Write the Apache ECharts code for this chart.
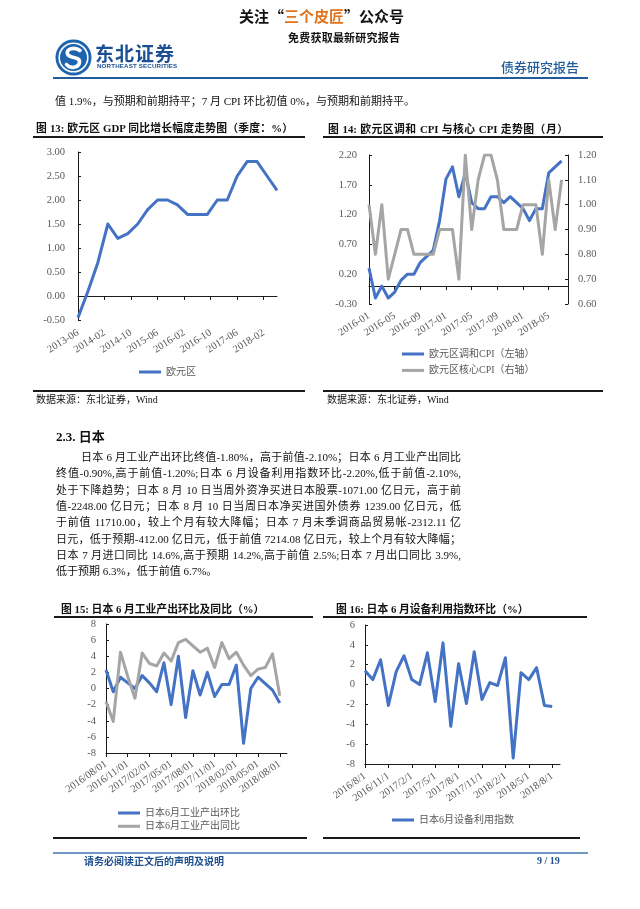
<!DOCTYPE html>
<html lang="zh-CN">
<head>
<meta charset="utf-8">
<script src="https://cdn.jsdelivr.net/npm/echarts@6/dist/echarts.min.js"></script>
<style>
html,body{margin:0;padding:0;background:#fff;}
#page{position:relative;width:640px;height:909px;overflow:hidden;background:#fff;}
#chart{position:absolute;left:0;top:0;width:640px;height:909px;}
.t{position:absolute;white-space:nowrap;font-family:'Liberation Serif','Noto Sans CJK SC',serif;color:#111;z-index:2;}
.j{text-align:justify;text-align-last:justify;}
.rule{position:absolute;background:#1a1a1a;z-index:2;}
.p{font-size:11px;line-height:14px;height:14px;}
</style>
</head>
<body>
<div id="page">
<div id="chart"></div>

<!-- header -->
<div class="t j" style="left:239px;top:7px;width:159px;font-size:15px;line-height:18px;font-weight:bold;font-family:'Noto Sans CJK SC';">关注“<span style="color:#e2741e">三个皮匠</span>”公众号</div>
<div class="t j" style="left:288px;top:30px;width:112px;font-size:11px;line-height:14px;font-weight:bold;font-family:'Noto Sans CJK SC';">免费获取最新研究报告</div>
<svg style="position:absolute;left:55px;top:39px;z-index:2" width="37" height="37" viewBox="0 0 37 37">
<circle cx="18.5" cy="18.5" r="18" fill="#1d63ad"/>
<circle cx="18.5" cy="18.5" r="14.3" fill="none" stroke="#fff" stroke-width="1.6"/>
<path d="M25 11.5 C 20 7.5, 10.5 9.5, 12.5 15 C 14.5 20, 25 17, 24.5 23 C 24 29, 15 30, 11.5 25.5" fill="none" stroke="#fff" stroke-width="3.6" stroke-linecap="round"/>
</svg>
<div class="t j" style="left:95px;top:42px;width:79px;font-size:19px;line-height:22px;font-weight:bold;color:#1b4f93;font-family:'Noto Sans CJK SC';">东北证券</div>
<div class="t" style="left:97px;top:62px;font-size:6.2px;line-height:8px;font-weight:bold;color:#1b4f93;font-family:'Liberation Sans';letter-spacing:0.15px;">NORTHEAST SECURITIES</div>
<div class="t j" style="left:501px;top:59px;width:77px;font-size:13px;line-height:16px;color:#1f5c99;font-family:'Noto Sans CJK SC';font-weight:500;">债券研究报告</div>
<div class="rule" style="left:53px;top:77px;width:535px;height:2px;background:#1f5c99;"></div>

<div class="t p" style="left:55px;top:94px;">值 1.9%，与预期和前期持平；7 月 CPI 环比初值 0%，与预期和前期持平。</div>

<!-- chart 13 / 14 frame -->
<div class="t j" style="left:36px;top:121px;width:257px;font-size:10.8px;line-height:14px;font-weight:bold;">图 13: 欧元区 GDP 同比增长幅度走势图（季度：%）</div>
<div class="rule" style="left:33px;top:136px;width:272px;height:1.5px;"></div>
<div class="t j" style="left:328px;top:122px;width:240px;font-size:10.8px;line-height:14px;font-weight:bold;">图 14: 欧元区调和 CPI 与核心 CPI 走势图（月）</div>
<div class="rule" style="left:323px;top:136px;width:280px;height:1.5px;"></div>
<div class="rule" style="left:33px;top:390px;width:272px;height:1.5px;"></div>
<div class="rule" style="left:323px;top:390px;width:280px;height:1.5px;"></div>
<div class="t" style="left:36px;top:393px;font-size:10px;line-height:14px;">数据来源：东北证券，Wind</div>
<div class="t" style="left:327px;top:393px;font-size:10px;line-height:14px;">数据来源：东北证券，Wind</div>

<!-- section text -->
<div class="t" style="left:56px;top:429px;font-size:13px;line-height:16px;font-weight:bold;">2.3. 日本</div>
<div class="t p j" style="left:81px;top:450px;width:380px;">日本 6 月工业产出环比终值-1.80%，高于前值-2.10%；日本 6 月工业产出同比</div>
<div class="t p j" style="left:56px;top:466.3px;width:405px;">终值-0.90%,高于前值-1.20%;日本 6 月设备利用指数环比-2.20%,低于前值-2.10%,</div>
<div class="t p j" style="left:56px;top:482.6px;width:405px;">处于下降趋势；日本 8 月 10 日当周外资净买进日本股票-1071.00 亿日元，高于前</div>
<div class="t p j" style="left:56px;top:498.9px;width:405px;">值-2248.00 亿日元；日本 8 月 10 日当周日本净买进国外债券 1239.00 亿日元，低</div>
<div class="t p j" style="left:56px;top:515.2px;width:405px;">于前值 11710.00，较上个月有较大降幅；日本 7 月未季调商品贸易帐-2312.11 亿</div>
<div class="t p j" style="left:56px;top:531.5px;width:405px;">日元，低于预期-412.00 亿日元，低于前值 7214.08 亿日元，较上个月有较大降幅；</div>
<div class="t p j" style="left:56px;top:547.8px;width:405px;">日本 7 月进口同比 14.6%,高于预期 14.2%,高于前值 2.5%;日本 7 月出口同比 3.9%,</div>
<div class="t p" style="left:56px;top:564.1px;">低于预期 6.3%，低于前值 6.7%。</div>

<!-- chart 15 / 16 frame -->
<div class="t j" style="left:61px;top:602px;width:201px;font-size:10.8px;line-height:14px;font-weight:bold;">图 15: 日本 6 月工业产出环比及同比（%）</div>
<div class="rule" style="left:54px;top:616px;width:259px;height:1.5px;"></div>
<div class="t j" style="left:336px;top:602px;width:191px;font-size:10.8px;line-height:14px;font-weight:bold;">图 16: 日本 6 月设备利用指数环比（%）</div>
<div class="rule" style="left:323px;top:616px;width:264px;height:1.5px;"></div>
<div class="rule" style="left:53px;top:837px;width:254px;height:1.5px;"></div>
<div class="rule" style="left:323px;top:837px;width:257px;height:1.5px;"></div>

<!-- footer -->
<div class="rule" style="left:53px;top:852px;width:535px;height:2px;background:#6f98c6;"></div>
<div class="t j" style="left:84px;top:854px;width:135px;font-size:10px;line-height:14px;font-weight:bold;color:#1f4e8c;font-family:'Noto Sans CJK SC';">请务必阅读正文后的声明及说明</div>
<div class="t" style="left:537px;top:854px;font-size:10px;line-height:14px;color:#1f4e8c;font-weight:bold;">9 / 19</div>
</div>

<script>
// ---------- data ----------
const gdpQuarters = ['2013-06','2013-09','2013-12','2014-03','2014-06','2014-09','2014-12','2015-03','2015-06','2015-09','2015-12','2016-03','2016-06','2016-09','2016-12','2017-03','2017-06','2017-09','2017-12','2018-03','2018-06'];
const gdpYoY = [-0.45, 0.1, 0.7, 1.5, 1.2, 1.3, 1.5, 1.8, 2.0, 2.0, 1.9, 1.7, 1.7, 1.7, 2.0, 2.0, 2.5, 2.8, 2.8, 2.5, 2.2];

const hicpYoY = [0.3, -0.2, 0.0, -0.2, -0.1, 0.1, 0.2, 0.2, 0.4, 0.5, 0.6, 1.1,
                 1.8, 2.0, 1.5, 1.9, 1.4, 1.3, 1.3, 1.5, 1.5, 1.4, 1.5, 1.4,
                 1.3, 1.1, 1.3, 1.3, 1.9, 2.0, 2.1];
const coreCpiYoY = [1.0, 0.8, 1.0, 0.7, 0.8, 0.9, 0.9, 0.8, 0.8, 0.8, 0.8, 0.9,
                    0.9, 0.9, 0.7, 1.2, 0.9, 1.1, 1.2, 1.2, 1.1, 0.9, 0.9, 0.9,
                    1.0, 1.0, 1.0, 0.8, 1.1, 0.9, 1.1];

const ipMoM = [2.3, -0.4, 1.4, 0.7, 0.0, 1.6, 0.7, -0.4, 3.2, -2.0, 4.0, -3.6, 2.2, -0.8, 2.0, -1.0, 0.5, 0.5, 2.9, -6.8, 0.0, 1.4, 0.6, -0.2, -1.8];
const ipYoY = [-1.6, -4.1, 4.5, 1.5, -1.2, 4.4, 3.1, 2.8, 4.4, 3.4, 5.7, 6.1, 5.3, 4.5, 5.0, 2.6, 5.7, 3.7, 4.5, 2.9, 1.6, 2.4, 2.6, 4.3, -0.9];
const capUtilMoM = [1.4, 0.5, 2.5, -2.1, 1.3, 2.9, 0.5, 0.0, 3.2, -1.7, 4.2, -4.2, 2.1, -1.9, 3.3, -1.5, 0.2, -0.1, 2.7, -7.4, 1.2, 0.5, 1.7, -2.1, -2.2];

const names13 = ['欧元区'];
const names14 = ['欧元区调和CPI（左轴）', '欧元区核心CPI（右轴）'];
const names15 = ['日本6月工业产出环比', '日本6月工业产出同比'];
const names16 = ['日本6月设备利用指数'];

// ---------- axis categories (month lists) ----------
const pad = n => (n < 10 ? '0' : '') + n;
function months(y, m, n, fmt) {
  const out = [];
  for (let i = 0; i < n; i++) {
    const k = m - 1 + i;
    out.push(fmt(y + Math.floor(k / 12), (k % 12) + 1));
  }
  return out;
}
const gdpAxis = months(2013, 6, 61, (y, m) => y + '-' + pad(m));
const cpiAxis = months(2016, 1, 32, (y, m) => y + '-' + pad(m));
const cpiMonths = cpiAxis.slice(0, hicpYoY.length);
const ipAxis = months(2016, 8, 26, (y, m) => y + '/' + pad(m) + '/01');
const capAxis = months(2016, 8, 26, (y, m) => y + '/' + m + '/1');

// ---------- styles ----------
const FONT = "'Liberation Serif','Noto Sans CJK SC',serif";
const AX = '#1a1a1a';
const BLUE = '#4472C4';
const GRAY = '#A5A5A5';
const LBL = { color: '#595959', fontSize: 10.5, fontFamily: FONT };

function lineXAxis(grid, data, interval, onZero) {
  return {
    gridIndex: grid, type: 'category', data: data, boundaryGap: false, position: 'bottom',
    axisLine: { show: true, onZero: onZero, lineStyle: { color: AX, width: 1 } },
    axisTick: { show: true, interval: interval, length: 4, lineStyle: { color: AX } },
    axisLabel: { show: false }, splitLine: { show: false }
  };
}
function labelXAxis(grid, data, interval, rotate, margin) {
  return {
    gridIndex: grid, type: 'category', data: data, boundaryGap: false, position: 'bottom',
    axisLine: { show: false, onZero: false }, axisTick: { show: false },
    axisLabel: Object.assign({ interval: interval, rotate: rotate, margin: margin }, LBL),
    splitLine: { show: false }
  };
}
function fullXAxis(grid, data, interval, rotate, margin) {
  const a = lineXAxis(grid, data, interval, false);
  a.axisLabel = Object.assign({ show: true, interval: interval, rotate: rotate, margin: margin }, LBL);
  return a;
}
function valAxis(grid, min, max, interval, pos, dec, margin) {
  return {
    gridIndex: grid, type: 'value', min: min, max: max, interval: interval, position: pos,
    axisLine: { show: true, lineStyle: { color: AX, width: 1 } },
    axisTick: { show: true, inside: true, length: 3, lineStyle: { color: AX } },
    axisLabel: Object.assign({ margin: margin, formatter: v => dec == null ? String(Math.round(v)) : v.toFixed(dec) }, LBL),
    splitLine: { show: false }
  };
}
function lineSeries(name, xi, yi, data, color) {
  return {
    name: name, type: 'line', xAxisIndex: xi, yAxisIndex: yi, data: data,
    symbol: 'none', showSymbol: false, smooth: false,
    lineStyle: { width: 3, color: color, join: 'round' }, itemStyle: { color: color }
  };
}
const LEG = {
  icon: 'rect', itemWidth: 22, itemHeight: 3, padding: 0, selectedMode: false,
  textStyle: { fontSize: 10, color: '#595959', fontFamily: FONT, lineHeight: 12 }
};

const chart = echarts.init(document.getElementById('chart'), null, { renderer: 'canvas' });
chart.setOption({
  animation: false,
  backgroundColor: 'transparent',
  grid: [
    { left: 78, top: 152, width: 199, height: 168 },
    { left: 369, top: 155, width: 199, height: 149 },
    { left: 106, top: 624, width: 181, height: 129 },
    { left: 365, top: 625, width: 195, height: 139 }
  ],
  xAxis: [
    lineXAxis(0, gdpAxis, 7, true),
    labelXAxis(0, gdpAxis, 7, 32, 12),
    lineXAxis(1, cpiAxis, 3, true),
    labelXAxis(1, cpiAxis, 3, 32, 11),
    fullXAxis(2, ipAxis, 2, 35, 10),
    fullXAxis(3, capAxis, 2, 35, 11)
  ],
  yAxis: [
    valAxis(0, -0.5, 3, 0.5, 'left', 2, 13),
    valAxis(1, -0.3, 2.2, 0.5, 'left', 2, 12),
    valAxis(1, 0.6, 1.2, 0.1, 'right', 2, 10),
    valAxis(2, -8, 8, 2, 'left', null, 10),
    valAxis(3, -8, 6, 2, 'left', null, 10)
  ],
  legend: [
    Object.assign({ data: names13, left: 139, top: 366 }, LEG),
    Object.assign({ data: names14, left: 402, top: 348, orient: 'vertical', itemGap: 4.4 }, LEG),
    Object.assign({ data: names15, left: 118, top: 807, orient: 'vertical', itemGap: 1.3 }, LEG),
    Object.assign({ data: names16, left: 392, top: 814 }, LEG)
  ],
  series: [
    lineSeries(names13[0], 0, 0, gdpQuarters.map((q, i) => [q, gdpYoY[i]]), BLUE),
    lineSeries(names14[0], 2, 1, cpiMonths.map((c, i) => [c, hicpYoY[i]]), BLUE),
    lineSeries(names14[1], 2, 2, cpiMonths.map((c, i) => [c, coreCpiYoY[i]]), GRAY),
    lineSeries(names15[0], 4, 3, ipMoM, BLUE),
    lineSeries(names15[1], 4, 3, ipYoY, GRAY),
    lineSeries(names16[0], 5, 4, capUtilMoM, BLUE)
  ]
});
</script>
</body>
</html>
